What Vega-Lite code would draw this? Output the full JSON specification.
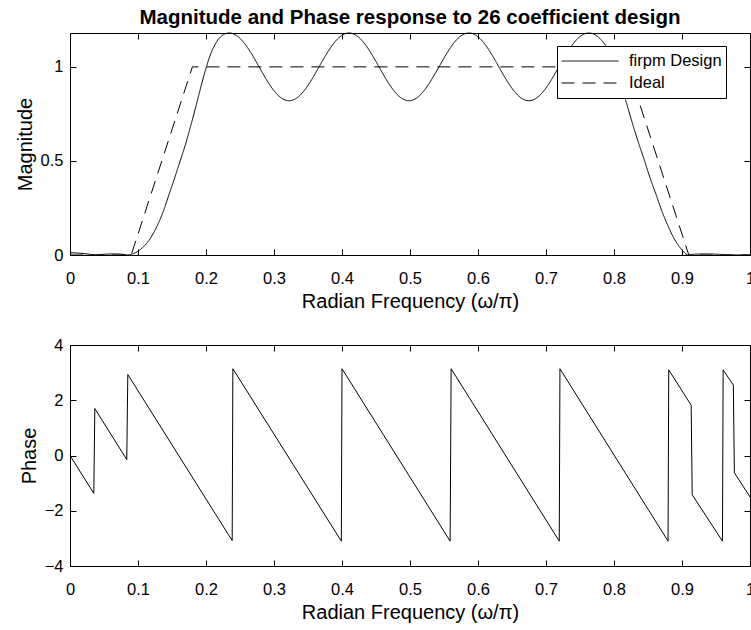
{
  "$schema": "https://vega.github.io/schema/vega-lite/v6.json",
  "padding": {"left": 14, "top": 7, "right": 0, "bottom": 0},
  "background": "white",
  "bounds": "flush",
  "spacing": 90,
  "datasets": {
    "firpm": [
      {"s":"firpm Design","x":0,"m":0.012},{"s":"firpm Design","x":0.008,"m":0.011},{"s":"firpm Design","x":0.016,"m":0.009},{"s":"firpm Design","x":0.024,"m":0.006},{"s":"firpm Design","x":0.031,"m":0.003},{"s":"firpm Design","x":0.037,"m":0.0},{"s":"firpm Design","x":0.044,"m":0.002},{"s":"firpm Design","x":0.052,"m":0.0042},{"s":"firpm Design","x":0.06,"m":0.0055},{"s":"firpm Design","x":0.067,"m":0.0058},{"s":"firpm Design","x":0.073,"m":0.005},{"s":"firpm Design","x":0.079,"m":0.003},{"s":"firpm Design","x":0.0845,"m":0},
      {"s":"firpm Design","x":0.092,"m":0.006},{"s":"firpm Design","x":0.1,"m":0.02},{"s":"firpm Design","x":0.108,"m":0.044},{"s":"firpm Design","x":0.116,"m":0.077},{"s":"firpm Design","x":0.124,"m":0.125},{"s":"firpm Design","x":0.132,"m":0.185},{"s":"firpm Design","x":0.139,"m":0.25},{"s":"firpm Design","x":0.145,"m":0.315},{"s":"firpm Design","x":0.153,"m":0.4},{"s":"firpm Design","x":0.162,"m":0.5},{"s":"firpm Design","x":0.17,"m":0.59},{"s":"firpm Design","x":0.177,"m":0.68},{"s":"firpm Design","x":0.183,"m":0.76},{"s":"firpm Design","x":0.189,"m":0.845},{"s":"firpm Design","x":0.194,"m":0.915},{"s":"firpm Design","x":0.199,"m":0.98},{"s":"firpm Design","x":0.205,"m":1.05},{"s":"firpm Design","x":0.212,"m":1.11},{"s":"firpm Design","x":0.219,"m":1.15},{"s":"firpm Design","x":0.226,"m":1.172},
      {"s":"firpm Design","x":0.234,"m":1.18},{"s":"firpm Design","x":0.245,"m":1.1663},{"s":"firpm Design","x":0.256,"m":1.1273},{"s":"firpm Design","x":0.2671,"m":1.0689},{"s":"firpm Design","x":0.2781,"m":1.0},{"s":"firpm Design","x":0.2891,"m":0.9311},{"s":"firpm Design","x":0.3001,"m":0.8727},{"s":"firpm Design","x":0.3111,"m":0.8337},{"s":"firpm Design","x":0.3222,"m":0.82},{"s":"firpm Design","x":0.3332,"m":0.8337},{"s":"firpm Design","x":0.3442,"m":0.8727},{"s":"firpm Design","x":0.3552,"m":0.9311},{"s":"firpm Design","x":0.3662,"m":1.0},{"s":"firpm Design","x":0.3773,"m":1.0689},{"s":"firpm Design","x":0.3883,"m":1.1273},{"s":"firpm Design","x":0.3993,"m":1.1663},{"s":"firpm Design","x":0.4103,"m":1.18},{"s":"firpm Design","x":0.4213,"m":1.1663},{"s":"firpm Design","x":0.4324,"m":1.1273},{"s":"firpm Design","x":0.4434,"m":1.0689},{"s":"firpm Design","x":0.4544,"m":1.0},{"s":"firpm Design","x":0.4654,"m":0.9311},{"s":"firpm Design","x":0.4764,"m":0.8727},{"s":"firpm Design","x":0.4875,"m":0.8337},{"s":"firpm Design","x":0.4985,"m":0.82},{"s":"firpm Design","x":0.5095,"m":0.8337},{"s":"firpm Design","x":0.5205,"m":0.8727},{"s":"firpm Design","x":0.5315,"m":0.9311},{"s":"firpm Design","x":0.5426,"m":1.0},{"s":"firpm Design","x":0.5536,"m":1.0689},{"s":"firpm Design","x":0.5646,"m":1.1273},{"s":"firpm Design","x":0.5756,"m":1.1663},{"s":"firpm Design","x":0.5866,"m":1.18},{"s":"firpm Design","x":0.5977,"m":1.1663},{"s":"firpm Design","x":0.6087,"m":1.1273},{"s":"firpm Design","x":0.6197,"m":1.0689},{"s":"firpm Design","x":0.6307,"m":1.0},{"s":"firpm Design","x":0.6417,"m":0.9311},{"s":"firpm Design","x":0.6528,"m":0.8727},{"s":"firpm Design","x":0.6638,"m":0.8337},{"s":"firpm Design","x":0.6748,"m":0.82},{"s":"firpm Design","x":0.6858,"m":0.8337},{"s":"firpm Design","x":0.6968,"m":0.8727},{"s":"firpm Design","x":0.7079,"m":0.9311},{"s":"firpm Design","x":0.7189,"m":1.0},{"s":"firpm Design","x":0.7299,"m":1.0689},{"s":"firpm Design","x":0.7409,"m":1.1273},{"s":"firpm Design","x":0.7519,"m":1.1663},{"s":"firpm Design","x":0.763,"m":1.18},
      {"s":"firpm Design","x":0.775,"m":1.164},{"s":"firpm Design","x":0.785,"m":1.127},{"s":"firpm Design","x":0.795,"m":1.07},{"s":"firpm Design","x":0.805,"m":0.975},{"s":"firpm Design","x":0.815,"m":0.85},{"s":"firpm Design","x":0.822,"m":0.762},{"s":"firpm Design","x":0.83,"m":0.665},{"s":"firpm Design","x":0.838,"m":0.575},{"s":"firpm Design","x":0.845,"m":0.5},{"s":"firpm Design","x":0.853,"m":0.41},{"s":"firpm Design","x":0.862,"m":0.32},{"s":"firpm Design","x":0.871,"m":0.228},{"s":"firpm Design","x":0.881,"m":0.142},{"s":"firpm Design","x":0.888,"m":0.09},{"s":"firpm Design","x":0.896,"m":0.045},{"s":"firpm Design","x":0.902,"m":0.018},{"s":"firpm Design","x":0.9085,"m":0},
      {"s":"firpm Design","x":0.915,"m":0.003},{"s":"firpm Design","x":0.922,"m":0.005},{"s":"firpm Design","x":0.93,"m":0.006},{"s":"firpm Design","x":0.938,"m":0.0058},{"s":"firpm Design","x":0.946,"m":0.005},{"s":"firpm Design","x":0.955,"m":0.0035},{"s":"firpm Design","x":0.965,"m":0.0015},{"s":"firpm Design","x":0.976,"m":0},{"s":"firpm Design","x":0.985,"m":0.0008},{"s":"firpm Design","x":0.993,"m":0.0006},{"s":"firpm Design","x":1,"m":0}
    ],
    "ideal": [
      {"s":"Ideal","x":0,"m":0},{"s":"Ideal","x":0.09,"m":0},{"s":"Ideal","x":0.18,"m":1},{"s":"Ideal","x":0.82,"m":1},{"s":"Ideal","x":0.91,"m":0},{"s":"Ideal","x":1,"m":0}
    ],
    "phase": [
      {"x":0,"p":0},{"x":0.035,"p":-1.37},{"x":0.0365,"p":1.7},{"x":0.0835,"p":-0.15},{"x":0.085,"p":2.93},{"x":0.2385,"p":-3.08},{"x":0.2395,"p":3.14},{"x":0.399,"p":-3.1},{"x":0.4,"p":3.14},{"x":0.559,"p":-3.1},{"x":0.5605,"p":3.14},{"x":0.7195,"p":-3.1},{"x":0.7205,"p":3.14},{"x":0.8795,"p":-3.1},{"x":0.8805,"p":3.1},{"x":0.9135,"p":1.82},{"x":0.915,"p":-1.42},{"x":0.9595,"p":-3.1},{"x":0.9605,"p":3.1},{"x":0.9755,"p":2.55},{"x":0.977,"p":-0.62},{"x":1,"p":-1.5}
    ]
  },
  "vconcat": [
    {
      "width": 680,
      "height": 222,
      "title": {"text": "Magnitude and Phase response to 26 coefficient design", "fontSize": 20.5, "fontWeight": "bold", "font": "Liberation Sans", "color": "black", "anchor": "middle", "frame": "group", "baseline": "alphabetic", "offset": -13},
      "layer": [
        {
          "data": {"name": "firpm"},
          "mark": {"type": "line", "interpolate": "monotone", "color": "black", "strokeWidth": 1},
          "encoding": {
            "x": {"field": "x", "type": "quantitative", "scale": {"domain": [0, 1], "nice": false},
                  "axis": {"orient": "bottom", "title": "Radian Frequency (ω/π)", "values": [0,0.1,0.2,0.3,0.4,0.5,0.6,0.7,0.8,0.9,1], "format": "~g", "labelPadding": 21, "titlePadding": 4.5, "labelFlush": false}},
            "y": {"field": "m", "type": "quantitative", "scale": {"domain": [0, 1.18], "nice": false, "zero": false},
                  "axis": {"orient": "left", "title": "Magnitude", "values": [0, 0.5, 1], "format": "~g", "labelPadding": 13, "titlePadding": 5, "labelFlush": false}},
            "strokeDash": {"field": "s", "type": "nominal", "scale": {"domain": ["firpm Design", "Ideal"], "range": [[1, 0], [13, 8]]},
                  "legend": {"title": null, "orient": "none", "legendX": 487, "legendY": 13, "fillColor": "white", "strokeColor": "black", "padding": 4, "symbolType": "stroke", "symbolSize": 3249, "symbolStrokeWidth": 1, "symbolStrokeColor": "black", "labelFontSize": 16.5, "labelFont": "Liberation Sans", "labelColor": "black", "labelOffset": 10, "clipHeight": 22, "rowPadding": 0}}
          }
        },
        {
          "data": {"name": "ideal"},
          "mark": {"type": "line", "color": "black", "strokeWidth": 1},
          "encoding": {
            "x": {"field": "x", "type": "quantitative", "axis": null},
            "y": {"field": "m", "type": "quantitative", "axis": null},
            "strokeDash": {"field": "s", "type": "nominal"}
          }
        },
        {
          "data": {"name": "ideal"},
          "mark": {"type": "line", "opacity": 0},
          "encoding": {
            "x": {"field": "x", "type": "quantitative", "axis": {"orient": "top", "title": null, "labels": false, "values": [0,0.1,0.2,0.3,0.4,0.5,0.6,0.7,0.8,0.9,1]}},
            "y": {"field": "m", "type": "quantitative", "axis": {"orient": "right", "title": null, "labels": false, "values": [0, 0.5, 1]}}
          }
        }
      ],
      "resolve": {"axis": {"x": "independent", "y": "independent"}}
    },
    {
      "width": 680,
      "height": 221,
      "data": {"name": "phase"},
      "layer": [
        {
          "mark": {"type": "line", "color": "black", "strokeWidth": 1},
          "encoding": {
            "x": {"field": "x", "type": "quantitative", "scale": {"domain": [0, 1], "nice": false},
                  "axis": {"orient": "bottom", "title": "Radian Frequency (ω/π)", "values": [0,0.1,0.2,0.3,0.4,0.5,0.6,0.7,0.8,0.9,1], "format": "~g", "labelPadding": 21, "titlePadding": 4.5, "labelFlush": false}},
            "y": {"field": "p", "type": "quantitative", "scale": {"domain": [-4, 4], "nice": false, "zero": false},
                  "axis": {"orient": "left", "title": "Phase", "values": [-4, -2, 0, 2, 4], "labelPadding": 13, "titlePadding": 5, "labelFlush": false}}
          }
        },
        {
          "mark": {"type": "line", "opacity": 0},
          "encoding": {
            "x": {"field": "x", "type": "quantitative", "axis": {"orient": "top", "title": null, "labels": false, "values": [0,0.1,0.2,0.3,0.4,0.5,0.6,0.7,0.8,0.9,1]}},
            "y": {"field": "p", "type": "quantitative", "axis": {"orient": "right", "title": null, "labels": false, "values": [-4, -2, 0, 2, 4]}}
          }
        }
      ],
      "resolve": {"axis": {"x": "independent", "y": "independent"}}
    }
  ],
  "config": {
    "view": {"stroke": "black", "strokeWidth": 1},
    "font": "Liberation Sans",
    "axis": {"grid": false, "domain": false, "tickColor": "black", "tickSize": -6, "tickWidth": 1, "labelColor": "black", "labelFontSize": 16.5, "labelFont": "Liberation Sans", "titleFont": "Liberation Sans", "titleFontSize": 20, "titleFontWeight": "normal", "titleColor": "black"}
  }
}
